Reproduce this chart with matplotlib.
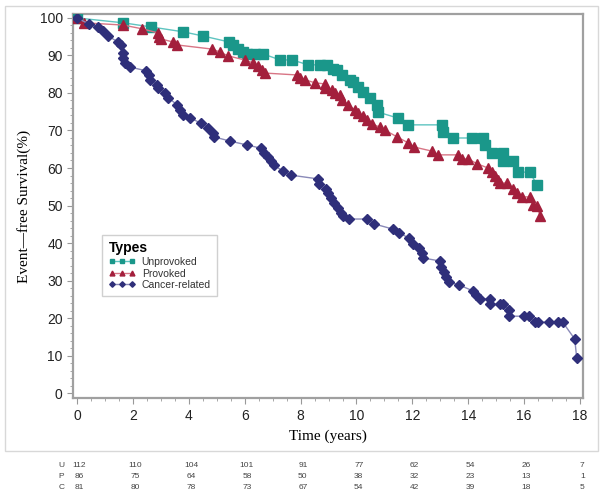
import matplotlib
matplotlib.use("Agg")
import matplotlib.pyplot as plt
from matplotlib.lines import Line2D
from matplotlib.patches import Rectangle
from matplotlib.ticker import MultipleLocator

plt.rcParams['font.family'] = ['Liberation Sans', 'DejaVu Sans']

# event-free survival
unprov_t = [0, 1.65, 2.65, 3.8, 4.5, 5.44, 5.58, 5.76, 5.94, 6.08, 6.37, 6.66, 7.27, 7.7, 8.27,
            8.7, 8.95, 9.16, 9.3, 9.48, 9.77, 9.88, 10.06, 10.24, 10.49, 10.74, 10.77, 11.49, 11.85,
            13.06, 13.1, 13.46, 14.14, 14.53, 14.6, 14.85, 15.25, 15.25, 15.6, 15.78, 16.2, 16.46]
unprov_s = [100, 98.7, 97.6, 96.3, 95.2, 93.6, 92.8, 91.7, 90.9, 90.4, 90.4, 90.4, 88.8, 88.8, 87.5,
            87.5, 87.5, 86.4, 86.1, 84.8, 83.5, 83.0, 81.6, 80.3, 78.7, 76.8, 74.9, 73.3, 71.5,
            71.5, 69.6, 68, 68, 68, 66.1, 64, 64, 61.9, 61.9, 58.9, 58.9, 55.5]

prov_t = [0, 0.25, 1.65, 2.33, 2.9, 2.93, 3.0, 3.43, 3.58, 4.83, 5.12, 5.4, 6.0, 6.3, 6.48, 6.62,
          6.73, 7.87, 7.98, 8.16, 8.52, 8.88, 8.88, 9.13, 9.23, 9.41, 9.48, 9.7, 9.95, 10.06, 10.24,
          10.38, 10.56, 10.84, 11.02, 11.45, 11.85, 12.06, 12.7, 12.92, 13.64, 13.78, 14.0, 14.32,
          14.71, 14.85, 14.96, 15.07, 15.14, 15.39, 15.6, 15.75, 15.93, 16.2, 16.32, 16.46, 16.57]
prov_s = [100, 98.7, 98.1, 97.1, 96, 94.9, 94.4, 93.6, 92.8, 91.7, 90.9, 89.9, 88.8, 88, 87.2, 86.1,
          85.3, 84.8, 84, 83.5, 82.7, 82.4, 81.3, 80.8, 80, 79.5, 78.1, 76.8, 75.5, 74.7, 73.9,
          72.8, 71.7, 70.9, 70.1, 68.3, 66.7, 65.6, 64.5, 63.5, 63.5, 62.4, 62.4, 61.1,
          60, 58.9, 57.9, 56.8, 56, 56, 54.4, 53.3, 52.3, 52.3, 50.1, 49.9, 47.2]

cancer_t = [0, 0.43, 0.75, 0.93, 1.1, 1.47, 1.58, 1.65, 1.65, 1.72, 1.9, 2.48, 2.58, 2.62, 2.87, 2.9,
            3.16, 3.27, 3.59, 3.7, 3.8, 4.06, 4.42, 4.7, 4.85, 4.9, 5.46, 6.1, 6.57, 6.68, 6.82, 6.93,
            7.04, 7.36, 7.65, 8.62, 8.65, 8.9, 8.98, 9.08, 9.2, 9.34, 9.44, 9.5, 9.73, 10.38, 10.63,
            11.31, 11.53, 11.88, 12.03, 12.24, 12.35, 12.39, 13.0, 13.03, 13.14, 13.2, 13.32, 13.68,
            14.18, 14.29, 14.43, 14.79, 14.79, 15.15, 15.25, 15.44, 15.44, 15.98, 16.16, 16.37, 16.5,
            16.88, 17.2, 17.38, 17.81, 17.88]
cancer_s = [100, 98.4, 97.6, 96.5, 95.2, 93.6, 92.8, 90.7, 89.3, 88, 86.9, 85.9, 84.8, 83.5, 82.1, 81.3,
            80, 78.7, 76.8, 75.5, 74.1, 73.3, 72, 70.7, 69.3, 68.3, 67.2, 66.1, 65.3, 64, 62.9, 61.9,
            60.8, 59.2, 58.1, 57.1, 55.7, 54.4, 53.3, 52, 50.7, 49.3, 48, 47.2, 46.4, 46.4, 45.1,
            43.7, 42.7, 41.3, 39.7, 38.7, 37.3, 36, 35.2, 33.6, 32.3, 30.9, 29.6, 28.8,
            27.2, 26.1, 25.1, 25.1, 23.7, 23.7, 23.7, 22.1, 20.5, 20.5, 20.5, 18.9, 18.9,
            18.9, 18.9, 18.9, 14.4, 9.3]

# numbers at risk
risk_times = [0, 2, 4, 6, 8, 10, 12, 14, 16, 18]
risk_U = [112, 110, 104, 101, 91, 77, 62, 54, 26, 7]
risk_P = [86, 75, 64, 58, 50, 38, 32, 23, 13, 1]
risk_C = [81, 80, 78, 73, 67, 54, 42, 39, 18, 5]

fig = plt.figure(figsize=(6.04, 4.97), dpi=100)
ax = fig.add_axes([0.121, 0.199, 0.844, 0.773])

ax.plot(unprov_t, unprov_s, color="#5ec4c0", lw=1, marker="s", ms=6.5,
        mfc="#1a978a", mec="#1a978a", zorder=3)
ax.plot(prov_t, prov_s, color="#d87585", lw=1, marker="^", ms=7.5,
        mfc="#a31f3c", mec="#a31f3c", zorder=3)
ax.plot(cancer_t, cancer_s, color="#8a8ab8", lw=1, marker="D", ms=5,
        mfc="#2f2f7a", mec="#2f2f7a", zorder=3)

ax.set_xlim(-0.14, 18.1)
ax.set_ylim(-1.33, 101.07)
ax.xaxis.set_major_locator(MultipleLocator(2))
ax.xaxis.set_minor_locator(MultipleLocator(0.5))
ax.yaxis.set_major_locator(MultipleLocator(10))
ax.yaxis.set_minor_locator(MultipleLocator(2))
ax.tick_params(which="both", color="#999999", labelsize=10, labelcolor="#222222")
ax.tick_params(which="major", length=4)
ax.tick_params(which="minor", length=2)
for sp in ax.spines.values():
    sp.set_color("#a0a0a0")
    sp.set_linewidth(1.6)

ax.set_xlabel("Time (years)", family="Liberation Serif", fontsize=11, labelpad=5)
ax.set_ylabel("Event\u2014free Survival(%)", family="Liberation Serif", fontsize=11, labelpad=6)

handles = [
    Line2D([], [], color="#5ec4c0", lw=1, marker="s", ms=3.5, mfc="#1a978a", mec="#1a978a"),
    Line2D([], [], color="#d87585", lw=1, marker="^", ms=3.5, mfc="#a31f3c", mec="#a31f3c"),
    Line2D([], [], color="#8a8ab8", lw=1, marker="D", ms=2.8, mfc="#2f2f7a", mec="#2f2f7a"),
]
leg = ax.legend(handles, ["Unprovoked", "Provoked", "Cancer-related"], title="Types",
                loc="upper left", bbox_to_anchor=(0.057, 0.424), borderaxespad=0,
                numpoints=3, handlelength=2.6, handletextpad=0.6, labelspacing=0.15,
                fontsize=7.5, fancybox=False, edgecolor="#d0d0d0", framealpha=1,
                borderpad=0.6)
leg.get_title().set_fontweight("bold")
leg.get_title().set_fontsize(10)
leg._legend_box.align = "left"
for t in leg.get_texts():
    t.set_color("#333333")

# number-at-risk table
tr = ax.get_xaxis_transform()
for lab, vals, yy in [("U", risk_U, -0.1745), ("P", risk_P, -0.205), ("C", risk_C, -0.2336)]:
    ax.text(-0.55, yy, lab, transform=tr, fontsize=6, ha="center", va="center",
            color="#444444", clip_on=False)
    for x, v in zip(risk_times, vals):
        ax.text(x + 0.08, yy, str(v), transform=tr, fontsize=6, ha="center", va="center",
                color="#444444", clip_on=False)

fig.patches.append(Rectangle((5 / 604, 1 - 451 / 497), 593 / 604, 445 / 497,
                             transform=fig.transFigure, fill=False, ec="#d8d8d8", lw=1))

fig.savefig("out.png", dpi=100)
